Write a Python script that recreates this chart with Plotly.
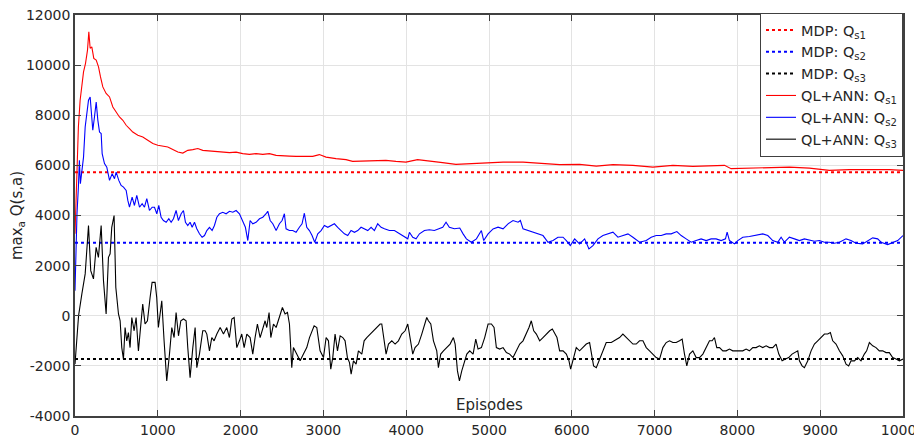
import plotly.graph_objects as go

# ---------------- data ----------------
x_ticks = [0, 1000, 2000, 3000, 4000, 5000, 6000, 7000, 8000, 9000, 10000]
x_tick_text = ["0", "1000", "2000", "3000", "4000", "5000", "6000", "7000", "8000", "9000", "10000"]
y_ticks = [-4000, -2000, 0, 2000, 4000, 6000, 8000, 10000, 12000]
y_tick_text = ["-4000", "-2000", "0", "2000", "4000", "6000", "8000", "10000", "12000"]

mdp_s1 = 5730
mdp_s2 = 2910
mdp_s3 = -1730

red_ep = [0, 21, 41, 62, 82, 103, 127, 151, 167, 183, 203, 227, 256, 284, 308, 336, 376, 417, 457,
          497, 537, 578, 618, 658, 698, 759, 819, 879, 940, 1000, 1061, 1121, 1181, 1242, 1302, 1362,
          1423, 1483, 1543, 1624, 1705, 1785, 1866, 1946, 2026, 2107, 2187, 2268, 2348, 2429, 2509,
          2589, 2670, 2750, 2871, 2951, 3032, 3152, 3273, 3353, 3474, 3635, 3755, 3876, 3997, 4137,
          4278, 4439, 4600, 4760, 4888, 5170, 5411, 5652, 5853, 6094, 6296, 6497, 6738, 6979, 7221,
          7462, 7703, 7844, 7924, 8145, 8387, 8628, 8870, 9111, 9352, 9594, 9835, 10000]
red_val = [3270, 5670, 7530, 8600, 9270, 9730, 10070, 10600, 11330, 10670, 10730, 10270, 10200, 9930,
           9530, 9130, 8870, 8730, 8330, 8130, 7930, 7800, 7600, 7470, 7330, 7200, 7130, 7000, 6870,
           6800, 6760, 6730, 6630, 6530, 6490, 6600, 6630, 6670, 6600, 6570, 6570, 6530, 6510, 6530,
           6470, 6440, 6470, 6440, 6470, 6400, 6400, 6370, 6360, 6360, 6360, 6430, 6330, 6270, 6230,
           6160, 6170, 6200, 6200, 6160, 6130, 6230, 6160, 6110, 6040, 6070, 6090, 6130, 6130, 6070,
           6030, 6040, 5970, 6030, 6000, 5930, 6000, 5960, 6000, 6000, 5870, 5890, 5930, 5930, 5890,
           5800, 5830, 5840, 5830, 5800]

blue_ep = [0, 12, 24, 41, 53, 65, 82, 103, 123, 143, 163, 183, 199, 215, 235, 256, 276, 296, 316, 328,
           356, 384, 417, 449, 477, 497, 529, 557, 586, 618, 638, 658, 690, 718, 746, 779, 811, 839,
           867, 899, 932, 960, 988, 1012, 1040, 1068, 1101, 1133, 1161, 1189, 1221, 1249, 1282, 1310,
           1334, 1362, 1390, 1415, 1443, 1471, 1503, 1535, 1564, 1592, 1624, 1656, 1684, 1713, 1745,
           1785, 1825, 1866, 1906, 1946, 1986, 2026, 2058, 2087, 2115, 2147, 2187, 2228, 2268, 2308,
           2328, 2357, 2389, 2429, 2469, 2501, 2529, 2549, 2589, 2630, 2670, 2710, 2742, 2770, 2799,
           2831, 2863, 2895, 2932, 2972, 3012, 3053, 3093, 3133, 3173, 3214, 3254, 3294, 3334, 3375,
           3415, 3455, 3496, 3536, 3576, 3616, 3656, 3697, 3737, 3797, 3858, 3918, 3978, 4019, 4039,
           4079, 4119, 4160, 4220, 4280, 4340, 4401, 4441, 4481, 4521, 4582, 4647, 4687, 4727, 4787,
           4848, 4908, 4936, 4989, 5049, 5109, 5170, 5230, 5290, 5351, 5379, 5411, 5471, 5532, 5592,
           5652, 5713, 5773, 5833, 5894, 5934, 5982, 6034, 6094, 6155, 6207, 6255, 6316, 6376, 6436,
           6497, 6557, 6617, 6678, 6738, 6818, 6899, 6959, 7019, 7080, 7140, 7200, 7269, 7321, 7381,
           7442, 7502, 7562, 7623, 7683, 7743, 7804, 7856, 7876, 7904, 7965, 8005, 8065, 8145, 8226,
           8306, 8367, 8427, 8487, 8528, 8568, 8628, 8689, 8749, 8809, 8870, 8930, 8990, 9051, 9111,
           9171, 9232, 9312, 9372, 9433, 9513, 9574, 9634, 9694, 9735, 9815, 9875, 9936, 10000]
blue_val = [1000, 2870, 4070, 5130, 6200, 5270, 5800, 6330, 7530, 8200, 8600, 8730, 8070, 7400, 7930,
            8530, 7800, 7330, 7270, 6470, 6070, 5930, 5400, 5670, 5470, 5730, 5400, 5200, 5130, 5000,
            4600, 4330, 4730, 4400, 4800, 4330, 4470, 4330, 4670, 4200, 4330, 4330, 4070, 4400, 3930,
            3800, 3730, 3870, 3730, 3870, 4200, 3800, 4070, 4200, 3730, 3600, 3730, 3530, 3730, 3470,
            3270, 3130, 3200, 3400, 3530, 3400, 3600, 3930, 4070, 4130, 4070, 4170, 4130, 4200, 4070,
            3800, 3530, 3000, 3800, 3670, 3730, 3870, 3930, 4070, 4170, 3800, 3670, 3400, 3670, 3800,
            4070, 3470, 3400, 3400, 3330, 3530, 3670, 4090, 3530, 3400, 3200, 2930, 3270, 3400, 3600,
            3530, 3600, 3670, 3530, 3400, 3270, 3200, 3400, 3330, 3400, 3530, 3470, 3400, 3530, 3400,
            3670, 3530, 3470, 3400, 3400, 3270, 3130, 3070, 3330, 3130, 3070, 3270, 3400, 3430, 3400,
            3470, 3530, 3730, 3530, 3470, 3500, 3267, 3067, 2933, 3067, 3400, 3000, 3267, 3467, 3533,
            3467, 3667, 3800, 3733, 3800, 3467, 3400, 3333, 3267, 3200, 2933, 3000, 3133, 3133, 3000,
            2800, 3067, 2867, 3067, 2667, 2800, 3067, 3200, 3267, 3333, 3133, 3200, 3267, 3133, 2933,
            3000, 3133, 3200, 3200, 3267, 3267, 3360, 3200, 3067, 2933, 3000, 3067, 3000, 3067, 3067,
            3000, 3067, 3333, 3000, 2867, 3000, 3133, 3160, 3200, 3267, 3200, 3000, 2933, 3133, 2933,
            3133, 3067, 3000, 3067, 3027, 2973, 3000, 2933, 2933, 2893, 2933, 3067, 3000, 2893, 2867,
            3000, 3107, 3067, 2933, 2840, 2933, 3000, 3200]

black_ep = [0, 43, 83, 123, 163, 190, 223, 255, 283, 316, 344, 376, 404, 424, 444, 472, 493, 525, 545,
            565, 585, 605, 625, 645, 665, 686, 714, 738, 766, 786, 818, 846, 875, 907, 931, 967, 987,
            1007, 1048, 1076, 1108, 1141, 1169, 1197, 1221, 1250, 1278, 1310, 1342, 1362, 1390, 1423,
            1451, 1471, 1503, 1543, 1572, 1592, 1624, 1652, 1680, 1713, 1753, 1793, 1833, 1865, 1894,
            1922, 1954, 1986, 2014, 2043, 2075, 2115, 2147, 2175, 2203, 2236, 2268, 2296, 2316, 2344,
            2365, 2397, 2429, 2457, 2477, 2505, 2537, 2566, 2590, 2606, 2618, 2638, 2679, 2719, 2759,
            2799, 2832, 2860, 2888, 2920, 2940, 2960, 3001, 3033, 3061, 3089, 3113, 3141, 3170, 3202,
            3234, 3262, 3290, 3315, 3335, 3363, 3395, 3423, 3464, 3492, 3524, 3564, 3604, 3645, 3685,
            3705, 3725, 3757, 3786, 3826, 3866, 3906, 3946, 3987, 4019, 4047, 4079, 4107, 4148, 4188,
            4220, 4248, 4268, 4297, 4329, 4369, 4389, 4417, 4450, 4490, 4530, 4570, 4591, 4619, 4643,
            4671, 4699, 4732, 4767, 4808, 4840, 4868, 4908, 4948, 4989, 5029, 5061, 5089, 5129, 5170,
            5210, 5250, 5290, 5331, 5371, 5411, 5451, 5483, 5511, 5540, 5572, 5612, 5652, 5692, 5733,
            5765, 5793, 5821, 5853, 5894, 5934, 5966, 5986, 6014, 6054, 6094, 6135, 6175, 6215, 6243,
            6263, 6296, 6328, 6368, 6416, 6477, 6537, 6577, 6617, 6658, 6698, 6738, 6778, 6818, 6859,
            6899, 6939, 6979, 7019, 7060, 7100, 7140, 7180, 7221, 7261, 7301, 7333, 7361, 7389, 7422,
            7462, 7502, 7542, 7583, 7623, 7663, 7695, 7723, 7751, 7784, 7824, 7864, 7904, 7944, 7985,
            8025, 8065, 8105, 8145, 8186, 8226, 8266, 8306, 8347, 8387, 8427, 8467, 8500, 8540, 8580,
            8620, 8660, 8701, 8729, 8749, 8781, 8809, 8850, 8890, 8930, 8970, 9010, 9051, 9091, 9123,
            9151, 9191, 9232, 9272, 9312, 9344, 9372, 9413, 9453, 9493, 9533, 9561, 9594, 9634, 9674,
            9714, 9755, 9795, 9835, 9875, 9916, 9956, 10000]
black_val = [-1930, 0, 870, 1670, 3600, 1800, 1470, 2730, 2330, 3600, 1400, 70, 2330, 2470, 3530, 4000,
             1130, 70, -200, -1270, -1730, -470, -1000, -670, -1270, -70, -600, -70, -1400, -730, 470,
             -330, -200, 730, 1330, 1330, 730, -470, 600, -1000, -2600, -1530, -470, -870, 130, -800,
             -200, -130, -200, -1270, -2470, -1270, -470, -2070, -1530, -600, -600, -730, -1400, -870,
             -1000, -730, -470, -730, -470, -870, -130, -70, -1270, -1000, -730, -1270, -730, -870,
             -1530, -870, -330, -870, -470, -200, -470, 130, -870, -330, -470, -200, 70, 330, 70, 130,
             -330, -1530, -2070, -1270, -1530, -1800, -1530, -1270, -870, -600, -400, -470, -870, -1400,
             -1670, -870, -1000, -2130, -1670, -730, -1400, -800, -870, -1000, -1670, -1870, -2330,
             -1800, -1930, -1400, -1530, -1000, -870, -730, -600, -470, -330, -330, -870, -1530, -1130,
             -1000, -1130, -1000, -730, -600, -330, -870, -1530, -1270, -1130, -730, -330, -70, -200,
             -330, -1000, -1400, -2070, -1530, -1400, -1270, -1130, -870, -1130, -2200, -2600, -2200,
             -1930, -1530, -1400, -1530, -930, -1330, -1270, -870, -330, -330, -470, -1270, -1330, -1270,
             -1470, -1530, -1670, -1400, -1130, -1000, -730, -470, -200, -600, -730, -1000, -870, -730,
             -600, -530, -730, -870, -1400, -1400, -1530, -1800, -2130, -1800, -1270, -1400, -1270,
             -1130, -1070, -1530, -2000, -2070, -1800, -1400, -1070, -1070, -930, -870, -730, -870,
             -1000, -1130, -1130, -1000, -1000, -1270, -1400, -1530, -1670, -1730, -1270, -1070, -1000,
             -1070, -1070, -1000, -930, -1530, -2000, -1530, -1400, -1670, -1670, -1530, -1270, -1000,
             -1000, -870, -1270, -1270, -1400, -1400, -1330, -1400, -1400, -1400, -1400, -1330, -1400,
             -1270, -1270, -1200, -1270, -1200, -1270, -1270, -1130, -1530, -1800, -1730, -1670, -1530,
             -1470, -1400, -1800, -2000, -2070, -1800, -1400, -1130, -1000, -870, -730, -730, -670,
             -1000, -1130, -1400, -1600, -1930, -2000, -1800, -1800, -1670, -1800, -1530, -1400, -1070,
             -1200, -1270, -1400, -1400, -1470, -1470, -1670, -1730, -1800, -1730]

FONT = "DejaVu Sans"
TXT = "#262626"

fig = go.Figure()

fig.add_trace(go.Scatter(x=[0, 10000], y=[mdp_s1, mdp_s1], mode="lines",
                         line=dict(color="#ff0000", width=2, dash="dot"),
                         name="MDP: Q<sub>s1</sub>"))
fig.add_trace(go.Scatter(x=[0, 10000], y=[mdp_s2, mdp_s2], mode="lines",
                         line=dict(color="#0000ff", width=2, dash="dot"),
                         name="MDP: Q<sub>s2</sub>"))
fig.add_trace(go.Scatter(x=[0, 10000], y=[mdp_s3, mdp_s3], mode="lines",
                         line=dict(color="#000000", width=2, dash="dot"),
                         name="MDP: Q<sub>s3</sub>"))
fig.add_trace(go.Scatter(x=red_ep, y=red_val, mode="lines",
                         line=dict(color="#ff0000", width=1.1),
                         name="QL+ANN: Q<sub>s1</sub>"))
fig.add_trace(go.Scatter(x=blue_ep, y=blue_val, mode="lines",
                         line=dict(color="#0000ff", width=1.1),
                         name="QL+ANN: Q<sub>s2</sub>"))
fig.add_trace(go.Scatter(x=black_ep, y=black_val, mode="lines",
                         line=dict(color="#000000", width=1.1),
                         name="QL+ANN: Q<sub>s3</sub>"))

fig.add_annotation(text="Episodes", xref="x domain", yref="y domain", x=0.5, y=0.0,
                   xanchor="center", yanchor="bottom", showarrow=False,
                   font=dict(family=FONT, size=15, color=TXT))

# the page body adds an 8 px offset, so margins are shifted by 8 px
fig.update_layout(
    width=922, height=435,
    margin=dict(l=67, r=27, t=7, b=27, autoexpand=False),
    paper_bgcolor="white", plot_bgcolor="white",
    font=dict(family=FONT, size=14, color=TXT),
    showlegend=True,
    legend=dict(x=1, y=1.005, xanchor="right", yanchor="top",
                bgcolor="white", bordercolor="#404040", borderwidth=1,
                font=dict(family=FONT, size=14.5, color=TXT),
                tracegroupgap=0, itemwidth=30),
)
fig.update_xaxes(range=[0, 10000], tickvals=x_ticks, ticktext=x_tick_text, automargin=False,
                 ticklabeloverflow="allow",
                 showgrid=True, gridcolor="#e3e3e3", gridwidth=1,
                 showline=True, linecolor="#404040", linewidth=1.5, mirror="ticks",
                 ticks="inside", ticklen=6, tickcolor="#404040", zeroline=False,
                 tickfont=dict(family=FONT, size=14, color=TXT))
fig.update_yaxes(range=[-4000, 12000], tickvals=y_ticks, ticktext=y_tick_text, automargin=False,
                 ticklabeloverflow="allow",
                 showgrid=True, gridcolor="#e3e3e3", gridwidth=1,
                 showline=True, linecolor="#404040", linewidth=1.5, mirror="ticks",
                 ticks="inside", ticklen=6, tickcolor="#404040", zeroline=False,
                 tickfont=dict(family=FONT, size=14, color=TXT),
                 title=dict(text="max<sub>a</sub> Q(s,a)", standoff=4,
                            font=dict(family=FONT, size=15, color=TXT)))

fig.write_html("out.html")
